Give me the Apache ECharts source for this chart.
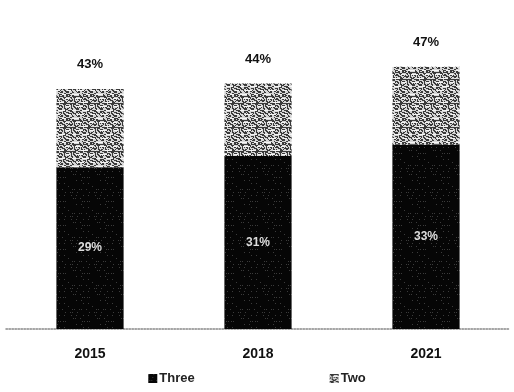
<!DOCTYPE html>
<html>
<head>
<meta charset="utf-8">
<script src="https://cdn.jsdelivr.net/npm/echarts@6/dist/echarts.min.js"></script>
<style>
  html, body { margin: 0; padding: 0; background: #fff; }
  #chart { width: 514px; height: 392px; }
</style>
</head>
<body>
<div id="chart"></div>
<script>
// Share by year: lower segment and the total of both segments (percent)
const years = ['2015', '2018', '2021'];
const lowerShare = [29, 31, 33];
const totalShare = [43, 44, 47];
const seriesNames = ['Three', 'Two'];

const upperShare = totalShare.map((t, i) => t - lowerShare[i]);

// Dark segment: near-black with sparse light specks
const darkTex = (function () {
  const c = document.createElement('canvas');
  c.width = 24; c.height = 24;
  const g = c.getContext('2d');
  g.fillStyle = '#060606';
  g.fillRect(0, 0, 24, 24);
  g.fillStyle = '#3c3c3c';
  for (let y = 0; y < 24; y += 3) {
    for (let x = 0; x < 24; x++) {
      const h = (x * 7 + y * 13 + ((x * y) % 5)) % 17;
      if (h < 2) g.fillRect(x, y, 1, 1);
    }
  }
  return c;
})();

// Light segment: grey halftone with short dashes
const lightTex = (function () {
  const c = document.createElement('canvas');
  c.width = 24; c.height = 24;
  const g = c.getContext('2d');
  g.fillStyle = '#d6d6d6';
  g.fillRect(0, 0, 24, 24);
  g.fillStyle = '#3a3a3a';
  for (let y = 0; y < 24; y++) {
    for (let x = 0; x < 24; x++) {
      const h = (x * 11 + y * 17 + ((x + 3) * (y + 1)) % 7) % 13;
      if (h < 6) g.fillRect(x, y, 1, 1);
    }
  }
  g.fillStyle = '#f4f4f4';
  for (let y = 2; y < 24; y += 4) {
    const off = (y * 7) % 11;
    g.fillRect(off, y, 7, 1);
    g.fillRect((off + 14) % 24, y, 4, 1);
  }
  return c;
})();

const chart = echarts.init(document.getElementById('chart'), null, { renderer: 'canvas' });

chart.setOption({
  animation: false,
  backgroundColor: '#fff',
  textStyle: { fontFamily: 'Liberation Sans, Arial, sans-serif' },
  grid: { left: 6, right: 4, top: 50, bottom: 63 },
  legend: {
    bottom: 2,
    left: 'center',
    itemGap: 135,
    itemWidth: 9,
    itemHeight: 9,
    icon: 'rect',
    textStyle: { color: '#222', fontSize: 13, fontWeight: 'bold', padding: [0, 0, 0, -3] },
    data: seriesNames
  },
  xAxis: {
    type: 'category',
    data: years,
    axisLine: { lineStyle: { color: '#888', type: 'dotted', width: 1.5 } },
    axisTick: { show: false },
    axisLabel: { color: '#111', fontSize: 14, fontWeight: 'bold', margin: 18 }
  },
  yAxis: {
    type: 'value',
    min: 0,
    max: 50,
    show: false,
    splitLine: { show: false }
  },
  series: [
    {
      name: seriesNames[0],
      type: 'bar',
      stack: 'share',
      barWidth: '40%',
      data: lowerShare,
      itemStyle: { color: { image: darkTex, repeat: 'repeat' } },
      label: {
        show: true,
        position: 'inside',
        color: '#ddd',
        fontSize: 12,
        fontWeight: 'bold',
        formatter: p => p.value + '%'
      }
    },
    {
      name: seriesNames[1],
      type: 'bar',
      stack: 'share',
      barWidth: '40%',
      data: upperShare,
      itemStyle: { color: { image: lightTex, repeat: 'repeat' } },
      label: {
        show: true,
        position: 'top',
        distance: 18,
        color: '#111',
        fontSize: 13,
        fontWeight: 'bold',
        formatter: p => totalShare[p.dataIndex] + '%'
      }
    }
  ]
});
</script>
</body>
</html>
